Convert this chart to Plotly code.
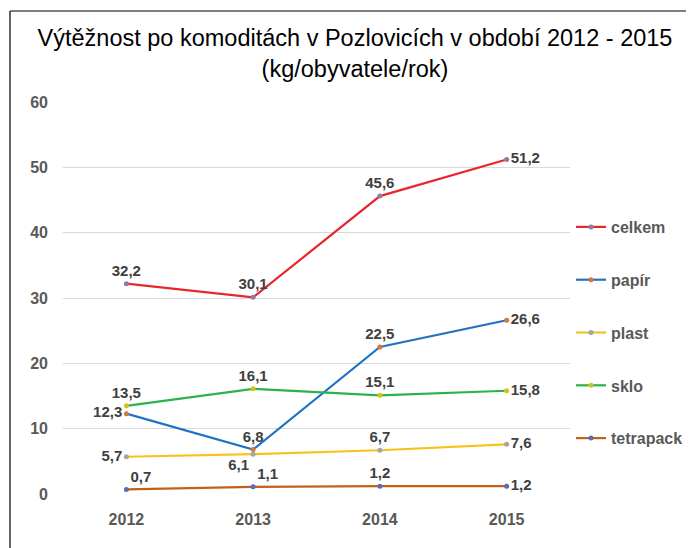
import plotly.graph_objects as go

years = ["2012", "2013", "2014", "2015"]
celkem = [32.2, 30.1, 45.6, 51.2]
papir = [12.3, 6.8, 22.5, 26.6]
plast = [5.7, 6.1, 6.7, 7.6]
sklo = [13.5, 16.1, 15.1, 15.8]
tetrapack = [0.7, 1.1, 1.2, 1.2]

series = [
    ("celkem", celkem, "#E8262B", "#8E7CA8", ["top center", "top center", "top center", "middle right"]),
    ("papír", papir, "#2072C4", "#D07A3A", ["middle left", "top center", "top center", "middle right"]),
    ("plast", plast, "#F7C31A", "#A5A5A5", ["middle left", "bottom left", "top center", "middle right"]),
    ("sklo", sklo, "#2BB24C", "#D6C31A", ["top center", "top center", "top center", "middle right"]),
    ("tetrapack", tetrapack, "#C5601A", "#5B6BB5", ["top right", "top right", "top center", "middle right"]),
]

FONT = "Liberation Sans, Arial, sans-serif"

fig = go.Figure()
for name, vals, col, mcol, pos in series:
    fig.add_trace(go.Scatter(
        x=years, y=vals, name=name, mode="lines+markers+text",
        line=dict(color=col, width=2.2),
        marker=dict(color=mcol, size=5),
        text=[f"{v:.1f}".replace(".", ",") for v in vals],
        textposition=pos,
        textfont=dict(family=FONT, size=15, color="#404040", weight="bold"),
        cliponaxis=False,
        legendgroup=name,
    ))

OFF = 8  # page body offset
L, R, T, B = 63 - OFF, 124 + OFF, 102 - OFF, 54 + OFF
W, H = 694, 548
pw, ph = W - L - R, H - T - B
def px_to_paper_x(px):
    return (px - OFF - L) / pw
def py_to_paper_y(py):
    return (H - B - (py - OFF)) / ph

fig.add_shape(type="line", xref="paper", yref="paper",
              x0=px_to_paper_x(10), x1=px_to_paper_x(720),
              y0=py_to_paper_y(11), y1=py_to_paper_y(11),
              line=dict(color="#000000", width=1.2))
fig.add_shape(type="line", xref="paper", yref="paper",
              x0=px_to_paper_x(10), x1=px_to_paper_x(10),
              y0=py_to_paper_y(11), y1=py_to_paper_y(580),
              line=dict(color="#000000", width=1.2))

fig.update_layout(
    width=W, height=H,
    margin=dict(l=L, r=R, t=T, b=B),
    paper_bgcolor="white", plot_bgcolor="white",
    title=dict(
        text="Výtěžnost po komoditách v Pozlovicích v období 2012 - 2015<br>(kg/obyvatele/rok)",
        x=0.5, xanchor="center", y=0.93, yanchor="top",
        font=dict(family=FONT, size=23.5, color="#000000"),
    ),
    xaxis=dict(range=[-0.5, 3.5], showgrid=False, showline=False, zeroline=False, ticks="",
               tickfont=dict(family=FONT, size=16, color="#595959", weight="bold"),
               ticklabelstandoff=14),
    yaxis=dict(range=[0, 60], dtick=10, showgrid=True, gridcolor="#D9D9D9", gridwidth=1,
               zeroline=False, showline=False, ticks="",
               tickfont=dict(family=FONT, size=16, color="#595959", weight="bold"),
               ticklabelstandoff=14),
    legend=dict(x=1.002, xanchor="left", y=py_to_paper_y(210), yanchor="top",
                font=dict(family=FONT, size=16, color="#595959", weight="bold"),
                tracegroupgap=29, itemwidth=30, bgcolor="rgba(0,0,0,0)"),
    showlegend=True,
)

fig.write_html("out.html")
